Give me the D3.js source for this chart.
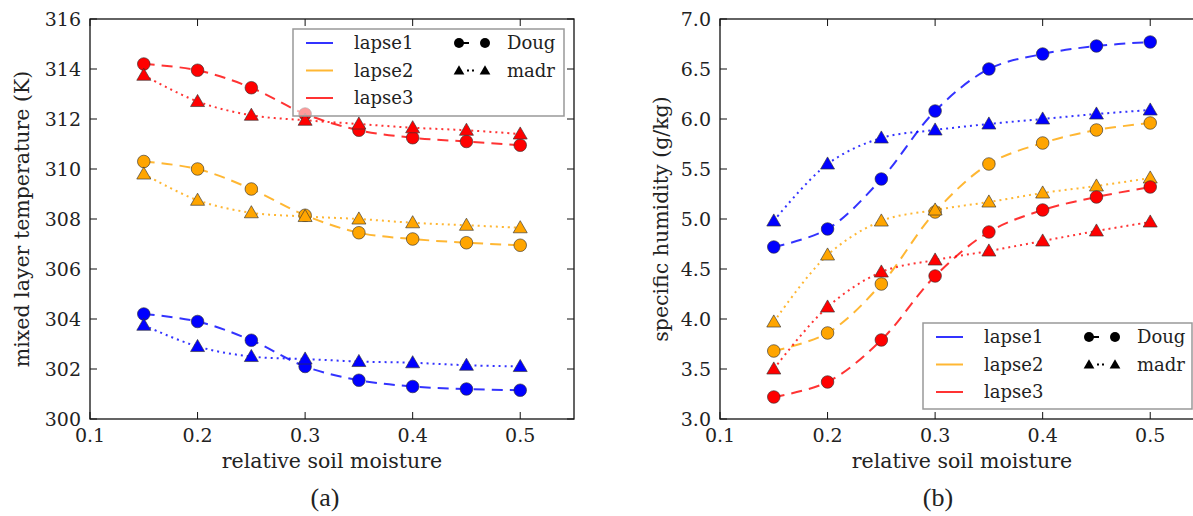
<!DOCTYPE html>
<html>
<head>
<meta charset="utf-8">
<script src="https://cdn.jsdelivr.net/npm/d3@7"></script>
<style>
  html, body { margin: 0; padding: 0; background: #fff; }
  svg { display: block; }
  text { font-family: "DejaVu Serif", serif; fill: #222; }
</style>
</head>
<body>
<svg id="fig" width="1193" height="516"></svg>
<script>
// relative soil moisture values shared by all series
const soilMoisture = [0.15, 0.20, 0.25, 0.30, 0.35, 0.40, 0.45, 0.50];

// (a) mixed layer temperature (K)
const tempLapse1Doug = [304.2, 303.9, 303.15, 302.1, 301.55, 301.3, 301.2, 301.15];
const tempLapse1Madr = [303.75, 302.9, 302.5, 302.4, 302.3, 302.25, 302.15, 302.1];
const tempLapse2Doug = [310.3, 310.0, 309.2, 308.15, 307.45, 307.2, 307.05, 306.95];
const tempLapse2Madr = [309.8, 308.75, 308.25, 308.1, 308.0, 307.85, 307.75, 307.65];
const tempLapse3Doug = [314.2, 313.95, 313.25, 312.2, 311.55, 311.25, 311.1, 310.95];
const tempLapse3Madr = [313.75, 312.7, 312.15, 311.95, 311.8, 311.65, 311.55, 311.4];

// (b) specific humidity (g/kg)
const humLapse1Doug = [4.72, 4.90, 5.40, 6.08, 6.50, 6.65, 6.73, 6.77];
const humLapse1Madr = [4.98, 5.55, 5.81, 5.89, 5.95, 6.00, 6.05, 6.09];
const humLapse2Doug = [3.68, 3.86, 4.35, 5.07, 5.55, 5.76, 5.89, 5.96];
const humLapse2Madr = [3.97, 4.64, 4.98, 5.09, 5.17, 5.26, 5.33, 5.41];
const humLapse3Doug = [3.22, 3.37, 3.79, 4.43, 4.87, 5.09, 5.22, 5.32];
const humLapse3Madr = [3.50, 4.12, 4.47, 4.59, 4.68, 4.78, 4.88, 4.97];

const xTicks = [0.1, 0.2, 0.3, 0.4, 0.5];
const xTickLabels = ["0.1", "0.2", "0.3", "0.4", "0.5"];
const tempTicks = [300, 302, 304, 306, 308, 310, 312, 314, 316];
const tempTickLabels = ["300", "302", "304", "306", "308", "310", "312", "314", "316"];
const humTicks = [3.0, 3.5, 4.0, 4.5, 5.0, 5.5, 6.0, 6.5, 7.0];
const humTickLabels = ["3.0", "3.5", "4.0", "4.5", "5.0", "5.5", "6.0", "6.5", "7.0"];

const lapseNames = ["lapse1", "lapse2", "lapse3"];
const schemeNames = ["Doug", "madr"];
const lapseColors = ["#0000ff", "#ffa500", "#ff0000"];

const DASHED = "11,7";
const DOTTED = "2,4";

const svg = d3.select("#fig");

function drawPanel(cfg) {
  const x = d3.scaleLinear().domain([0.1, 0.55]).range([cfg.left, cfg.right]);
  const y = d3.scaleLinear().domain(cfg.yDomain).range([cfg.bottom, cfg.top]);
  const g = svg.append("g");

  const clipId = "clip-" + cfg.id;
  g.append("clipPath").attr("id", clipId)
    .append("rect")
    .attr("x", cfg.left).attr("y", cfg.top)
    .attr("width", cfg.right - cfg.left).attr("height", cfg.bottom - cfg.top);

  const plot = g.append("g").attr("clip-path", `url(#${clipId})`);
  const line = d3.line()
    .x((d, i) => x(soilMoisture[i]))
    .y(d => y(d))
    .curve(d3.curveCatmullRom.alpha(0.5));

  const tri = d3.symbol().type(d3.symbolTriangle).size(85);

  cfg.series.forEach((s, k) => {
    const color = lapseColors[k];
    // Doug: dashed line with circles
    plot.append("path")
      .attr("d", line(s.doug))
      .attr("fill", "none")
      .attr("stroke", color)
      .attr("stroke-opacity", 0.8)
      .attr("stroke-width", 2)
      .attr("stroke-dasharray", DASHED);
    // madr: dotted line with triangles
    plot.append("path")
      .attr("d", line(s.madr))
      .attr("fill", "none")
      .attr("stroke", color)
      .attr("stroke-opacity", 0.8)
      .attr("stroke-width", 2)
      .attr("stroke-dasharray", DOTTED);
    plot.selectAll(null).data(s.doug).enter().append("circle")
      .attr("cx", (d, i) => x(soilMoisture[i]))
      .attr("cy", d => y(d))
      .attr("r", 6.3)
      .attr("fill", color)
      .attr("stroke", "#333")
      .attr("stroke-opacity", 0.8)
      .attr("stroke-width", 0.8);
    plot.selectAll(null).data(s.madr).enter().append("path")
      .attr("d", tri)
      .attr("transform", (d, i) => `translate(${x(soilMoisture[i])},${y(d) + 1})`)
      .attr("fill", color)
      .attr("stroke", "#333")
      .attr("stroke-opacity", 0.8)
      .attr("stroke-width", 0.8);
  });

  // axes frame with inward ticks on all four sides
  g.append("rect")
    .attr("x", cfg.left).attr("y", cfg.top)
    .attr("width", cfg.right - cfg.left).attr("height", cfg.bottom - cfg.top)
    .attr("fill", "none").attr("stroke", "#111").attr("stroke-width", 1.3);

  const tickLen = 7;
  xTicks.forEach((t, i) => {
    const px = x(t);
    g.append("line").attr("x1", px).attr("x2", px).attr("y1", cfg.bottom).attr("y2", cfg.bottom - tickLen)
      .attr("stroke", "#111").attr("stroke-width", 1);
    g.append("line").attr("x1", px).attr("x2", px).attr("y1", cfg.top).attr("y2", cfg.top + tickLen)
      .attr("stroke", "#111").attr("stroke-width", 1);
    g.append("text").attr("x", px).attr("y", cfg.bottom + 23)
      .attr("text-anchor", "middle").attr("font-size", 19)
      .text(xTickLabels[i]);
  });
  cfg.yTicks.forEach((t, i) => {
    const py = y(t);
    g.append("line").attr("x1", cfg.left).attr("x2", cfg.left + tickLen).attr("y1", py).attr("y2", py)
      .attr("stroke", "#111").attr("stroke-width", 1);
    g.append("line").attr("x1", cfg.right).attr("x2", cfg.right - tickLen).attr("y1", py).attr("y2", py)
      .attr("stroke", "#111").attr("stroke-width", 1);
    g.append("text").attr("x", cfg.left - 9).attr("y", py + 7)
      .attr("text-anchor", "end").attr("font-size", 19)
      .text(cfg.yTickLabels[i]);
  });

  g.append("text")
    .attr("x", (cfg.left + cfg.right) / 2).attr("y", cfg.bottom + 49)
    .attr("text-anchor", "middle").attr("font-size", 20.5)
    .text("relative soil moisture");
  g.append("text")
    .attr("transform", `translate(${cfg.ylabelX},${(cfg.top + cfg.bottom) / 2}) rotate(-90)`)
    .attr("text-anchor", "middle").attr("font-size", 20.5)
    .text(cfg.ylabel);
  g.append("text")
    .attr("x", cfg.captionX).attr("y", 506)
    .attr("text-anchor", "middle").attr("font-size", 26)
    .style("font-family", "'Liberation Serif', serif")
    .text(cfg.caption);

  // legend
  const L = cfg.legend;
  const lg = g.append("g");
  lg.append("rect")
    .attr("x", L.x).attr("y", L.y).attr("width", L.w).attr("height", L.h)
    .attr("fill", "#fff").attr("fill-opacity", 0.6)
    .attr("stroke", "#999").attr("stroke-width", 1.5);
  lapseNames.forEach((name, k) => {
    const ry = L.y + 14 + k * 27.5;
    lg.append("line")
      .attr("x1", L.x + 13).attr("x2", L.x + 40).attr("y1", ry).attr("y2", ry)
      .attr("stroke", lapseColors[k]).attr("stroke-opacity", 0.8).attr("stroke-width", 2);
    lg.append("text").attr("x", L.x + 61).attr("y", ry + 6)
      .attr("font-size", 18).text(name);
  });
  const mx1 = L.x + 166, mx2 = L.x + 192;
  schemeNames.forEach((name, k) => {
    const ry = L.y + 14 + k * 27.5;
    lg.append("line")
      .attr("x1", mx1).attr("x2", mx2).attr("y1", ry).attr("y2", ry)
      .attr("stroke", "#000").attr("stroke-width", 2)
      .attr("stroke-dasharray", k === 0 ? "10,30" : "0,8,2,3,2,30");
    [mx1, mx2].forEach(cx => {
      if (k === 0) {
        lg.append("circle").attr("cx", cx).attr("cy", ry).attr("r", 5).attr("fill", "#000");
      } else {
        lg.append("path").attr("d", d3.symbol().type(d3.symbolTriangle).size(50))
          .attr("transform", `translate(${cx},${ry + 1})`).attr("fill", "#000");
      }
    });
    lg.append("text").attr("x", L.x + 214).attr("y", ry + 6)
      .attr("font-size", 18).text(name);
  });
}

drawPanel({
  id: "a",
  left: 90, right: 574, top: 19, bottom: 419,
  yDomain: [300, 316],
  yTicks: tempTicks, yTickLabels: tempTickLabels,
  ylabel: "mixed layer temperature (K)", ylabelX: 29,
  caption: "(a)", captionX: 325,
  series: [
    { doug: tempLapse1Doug, madr: tempLapse1Madr },
    { doug: tempLapse2Doug, madr: tempLapse2Madr },
    { doug: tempLapse3Doug, madr: tempLapse3Madr }
  ],
  legend: { x: 293, y: 29, w: 271, h: 87 }
});

drawPanel({
  id: "b",
  left: 720, right: 1204, top: 19, bottom: 419,
  yDomain: [3.0, 7.0],
  yTicks: humTicks, yTickLabels: humTickLabels,
  ylabel: "specific humidity (g/kg)", ylabelX: 668,
  caption: "(b)", captionX: 938,
  series: [
    { doug: humLapse1Doug, madr: humLapse1Madr },
    { doug: humLapse2Doug, madr: humLapse2Madr },
    { doug: humLapse3Doug, madr: humLapse3Madr }
  ],
  legend: { x: 923, y: 323, w: 269, h: 86 }
});
</script>
</body>
</html>
